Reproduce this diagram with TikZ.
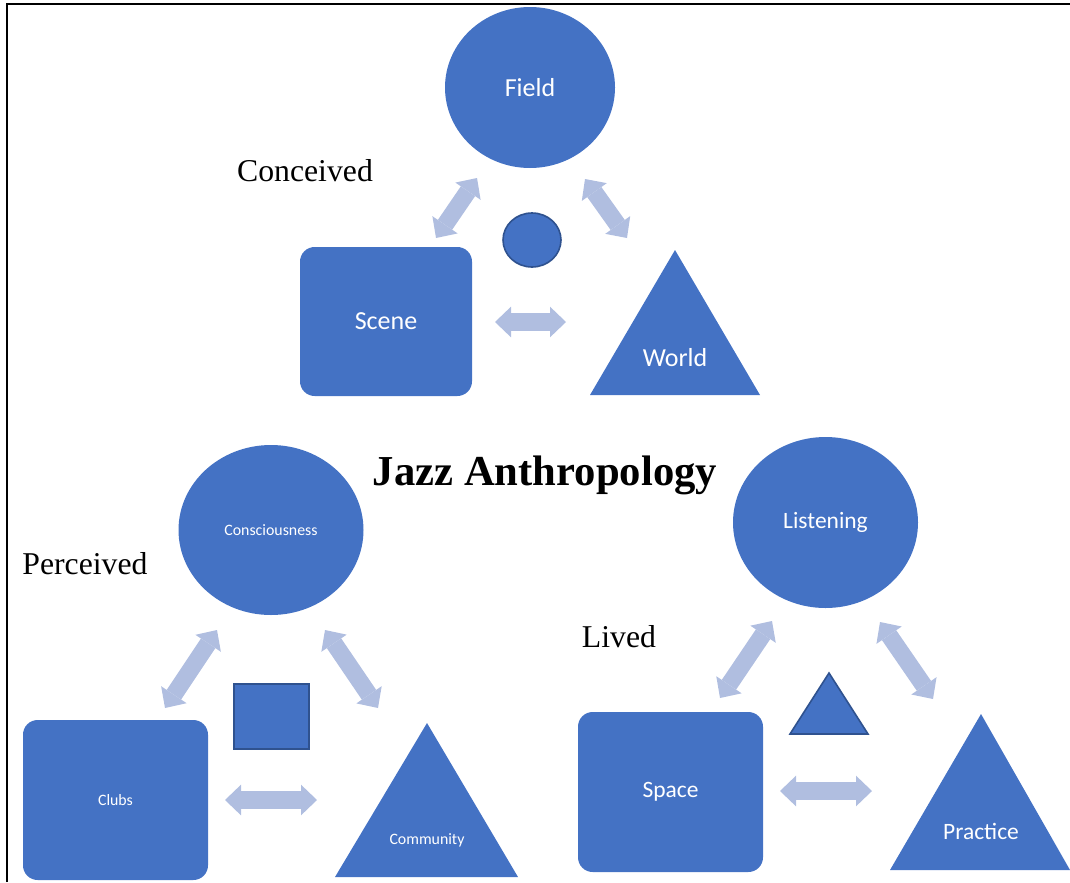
\documentclass[tikz,border=0pt]{standalone}
\usepackage{fontspec}
\setmainfont{Liberation Serif}
\newfontfamily\calibri{Carlito}
\usetikzlibrary{arrows.meta,shapes.geometric}
\definecolor{officeblue}{RGB}{68,114,196}
\definecolor{edgeblue}{RGB}{47,82,143}
\definecolor{arrowblue}{RGB}{176,190,224}

\begin{document}
\begin{tikzpicture}[x=0.75pt,y=-0.75pt,
    bigshape/.style={fill=officeblue, text=white, inner sep=0pt},
    oval/.style={bigshape, ellipse},
    roundbox/.style={bigshape, rectangle, rounded corners=11pt},
    shapetext/.style={text=white, inner sep=0pt},
    smallshape/.style={fill=officeblue, draw=edgeblue, line width=1.2pt},
    toplabel/.style={font=\calibri\fontsize{19.5}{22}\selectfont},
    rightlabel/.style={font=\calibri\fontsize{17.6}{20}\selectfont},
    leftlabel/.style={font=\calibri\fontsize{11.9}{14}\selectfont},
    corner/.style={font=\fontsize{23.8}{28}\selectfont},
    twoway/.style={arrowblue, line width=13pt,
      {Triangle[width=23pt,length=12pt,line width=0pt]}-{Triangle[width=23pt,length=12pt,line width=0pt]}}]
  \useasboundingbox (0,0) rectangle (1070,882);

  % Frame
  \draw[line width=1.5pt] (7,882) -- (7,4) -- (1070,4);

  % Conceived: field, scene, world
  \node[oval, toplabel, minimum width=127.5pt, minimum height=120.75pt] (field) at (530,87.5) {Field};
  \node[roundbox, toplabel, minimum width=129pt, minimum height=111.75pt] (scene) at (386,321.5) {Scene};
  \fill[officeblue] (675,250) -- (760,395) -- (590,395) -- cycle;
  \node[shapetext, toplabel] (world) at (675,358) {World};
  \draw[smallshape] (532,240) ellipse (21.75pt and 20.25pt);
  \node[corner] (conceived) at (305,171) {Conceived};

  \coordinate (fsA) at (436,238);
  \coordinate (fsB) at (477,178);
  \coordinate (fwA) at (585,179);
  \coordinate (fwB) at (627,238);
  \coordinate (swA) at (495,322);
  \coordinate (swB) at (566,322);
  \draw[twoway] (fsA) -- (fsB);
  \draw[twoway] (fwA) -- (fwB);
  \draw[twoway] (swA) -- (swB);

  % Title
  \node[font=\bfseries\fontsize{32}{36}\selectfont] (title) at (545,475) {Jazz Anthropology};

  % Perceived: consciousness, clubs, community
  \node[oval, leftlabel, minimum width=138.75pt, minimum height=127.5pt] (consc) at (271,530) {Consciousness};
  \node[roundbox, leftlabel, minimum width=138.75pt, minimum height=120pt] (clubs) at (115.5,800) {Clubs};
  \fill[officeblue] (427,723) -- (518,877) -- (335,877) -- cycle;
  \node[shapetext, leftlabel] (community) at (427,840) {Community};
  \draw[smallshape] (234,684) rectangle (309,749);
  \node[corner] (perceived) at (85,564) {Perceived};

  \coordinate (ccA) at (165,708);
  \coordinate (ccB) at (217,630);
  \coordinate (cmA) at (325,630);
  \coordinate (cmB) at (378,708);
  \coordinate (clA) at (225,800);
  \coordinate (clB) at (317,800);
  \draw[twoway] (ccA) -- (ccB);
  \draw[twoway] (cmA) -- (cmB);
  \draw[twoway] (clA) -- (clB);

  % Lived: listening, space, practice
  \node[oval, rightlabel, minimum width=138.75pt, minimum height=128.25pt] (listening) at (825.5,522.5) {Listening};
  \node[roundbox, rightlabel, minimum width=138.75pt, minimum height=120pt] (space) at (670.5,792) {Space};
  \fill[officeblue] (981,714) -- (1070,870) -- (890,870) -- cycle;
  \node[shapetext, rightlabel] (practice) at (981,831) {Practice};
  \draw[smallshape] (829,673) -- (868,734) -- (790,734) -- cycle;
  \node[corner] (lived) at (619,637) {Lived};

  \coordinate (lsA) at (720,698);
  \coordinate (lsB) at (772,621);
  \coordinate (lpA) at (880,622);
  \coordinate (lpB) at (933,699);
  \coordinate (spA) at (780,791);
  \coordinate (spB) at (872,791);
  \draw[twoway] (lsA) -- (lsB);
  \draw[twoway] (lpA) -- (lpB);
  \draw[twoway] (spA) -- (spB);
\end{tikzpicture}
\end{document}
